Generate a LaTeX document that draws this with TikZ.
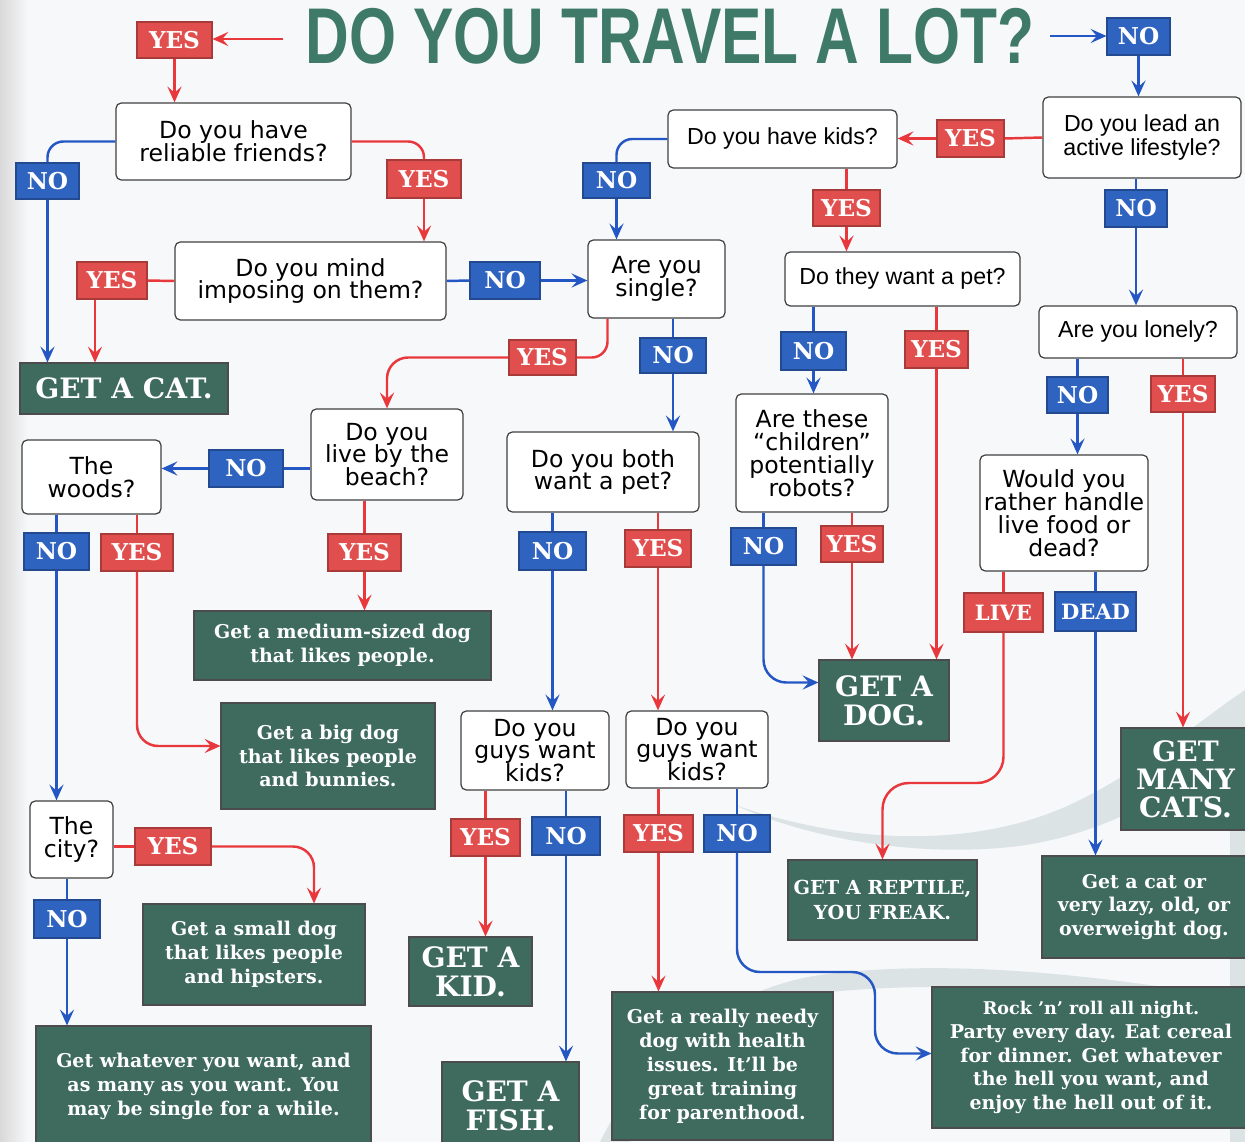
\documentclass[tikz,border=0pt]{standalone}
\usepackage{fontspec}
\setmainfont{DejaVu Sans}
\newfontfamily\qsans{DejaVu Sans}
\newfontfamily\qnarrow{Liberation Sans}
\newfontfamily\clar{DejaVu Serif}
\newfontfamily\titlefont{Liberation Sans}
\usetikzlibrary{arrows.meta,calc}
\definecolor{redl}{HTML}{E04E4E}
\definecolor{redline}{HTML}{E8383C}
\definecolor{bluel}{HTML}{2F63C0}
\definecolor{blueline}{HTML}{2457C4}
\definecolor{outg}{HTML}{3F6B5E}
\definecolor{titleg}{HTML}{3F7A69}
\definecolor{bg}{HTML}{F7F8FA}
\definecolor{swoosh}{HTML}{DCE3E5}
\begin{document}
\begin{tikzpicture}[x=0.02cm,y=-0.02cm,
  bx/.style n args={4}{at={({(#1+#3)/2},{(#2+#4)/2})}, minimum width={(#3-#1)*0.02cm}, minimum height={(#4-#2)*0.02cm}},
  q/.style={draw=black!75, line width=0.7pt, fill=white, rounded corners=3pt, align=center, inner sep=0pt, font=\qsans\fontsize{13.4}{13}\selectfont},
  qn/.style={q, font=\qnarrow\fontsize{13.2}{14}\selectfont},
  outc/.style={draw=black!70, line width=0.6pt, fill=outg, text=white, align=center, inner sep=0pt, font=\clar\bfseries\fontsize{10.8}{13.6}\selectfont},
  bigo/.style={outc, font=\clar\bfseries\fontsize{16}{16.5}\selectfont},
  lab/.style={inner sep=0pt, align=center, text=white, line width=0.6pt, font=\clar\bfseries\fontsize{13.2}{13}\selectfont},
  yes/.style={lab, fill=redl, draw=redl!75!black},
  no/.style={lab, fill=bluel, draw=bluel!75!black},
  rl/.style={draw=redline, line width=1.4pt},
  bl/.style={draw=blueline, line width=1.4pt},
  ra/.style={rl, -{Stealth[length=9pt,width=8pt,inset=3.5pt]}},
  ba/.style={bl, -{Stealth[length=9pt,width=8pt,inset=3.5pt]}},
  rc/.style={rounded corners=9pt}]
\useasboundingbox (0,0) rectangle (1245,1142);
\fill[bg] (0,0) rectangle (1245,1142);
\clip (0,0) rectangle (1245,1142);
\shade[left color=gray!30, right color=bg] (0,0) rectangle (28,1142);
% background swooshes
\fill[swoosh] (735,805) .. controls (850,845) and (980,850) .. (1080,800)
  .. controls (1150,765) and (1200,720) .. (1245,690) -- (1245,740)
  .. controls (1180,790) and (1100,840) .. (1000,848)
  .. controls (900,856) and (800,835) .. (735,805) -- cycle;
\fill[swoosh] (600,1142) .. controls (640,1060) and (720,990) .. (820,975)
  .. controls (950,958) and (1100,975) .. (1245,1000) -- (1245,1015)
  .. controls (1100,990) and (950,980) .. (830,992)
  .. controls (730,1005) and (660,1070) .. (630,1142) -- cycle;
\fill[swoosh] (1245,700) -- (1245,1142) -- (1230,1142) -- (1230,740) -- cycle;

% title
\node[text=titleg, inner sep=0pt, font=\titlefont\bfseries\fontsize{45}{45}\selectfont, xscale=0.765] (title) at (670,36) {DO YOU TRAVEL A LOT?};
\coordinate (tl) at (283,39);
\coordinate (tr) at (1050,36);

% question boxes
\node[q, bx={116}{103}{351}{180}] (q1) {Do you have\\reliable friends?};
\node[q, bx={175}{242}{446}{320}] (q2) {Do you mind\\imposing on them?};
\node[q, bx={588}{240}{725}{318}] (q3) {Are you\\single?};
\node[qn, bx={668}{110}{897}{168}] (q4) {Do you have kids?};
\node[qn, bx={1043}{97}{1241}{178}] (q5) {Do you lead an\\active lifestyle?};
\node[qn, bx={785}{252}{1020}{306}] (q6) {Do they want a pet?};
\node[qn, bx={1039}{306}{1237}{358}] (q7) {Are you lonely?};
\node[q, bx={311}{409}{463}{500}] (q8) {Do you\\live by the\\beach?};
\node[q, bx={22}{440}{161}{514}] (woods) {The\\woods?};
\node[q, bx={30}{801}{113}{878}] (city) {The\\city?};
\node[q, bx={507}{432}{699}{512}] (q11) {Do you both\\want a pet?};
\node[q, bx={461}{711}{609}{790}] (q12) {Do you\\guys want\\kids?};
\node[q, bx={626}{711}{768}{788}] (q13) {Do you\\guys want\\kids?};
\node[q, bx={736}{394}{888}{512}] (q14) {Are these\\“children”\\potentially\\robots?};
\node[q, bx={980}{455}{1148}{571}] (q15) {Would you\\rather handle\\live food or\\dead?};

% outcomes
\node[bigo, bx={20}{363}{228}{414}] (cat) {GET A CAT.};
\node[outc, bx={194}{611}{491}{680}] (meddog) {Get a medium-sized dog\\that likes people.};
\node[outc, bx={221}{703}{435}{809}] (bigdog) {Get a big dog\\that likes people\\and bunnies.};
\node[outc, bx={143}{904}{365}{1005}] (smalldog) {Get a small dog\\that likes people\\and hipsters.};
\node[outc, bx={36}{1026}{371}{1146}] (whatever) {Get whatever you want, and\\as many as you want. You\\may be single for a while.};
\node[bigo, bx={409}{937}{532}{1006}] (kid) {GET A\\KID.};
\node[bigo, bx={442}{1062}{579}{1150}] (fish) {GET A\\FISH.};
\node[outc, bx={612}{992}{833}{1140}] (needy) {Get a really needy\\dog with health\\issues. It’ll be\\great training\\for parenthood.};
\node[outc, bx={932}{987}{1250}{1128}] (rock) {{\fontsize{10}{13.6}\selectfont Rock ’n’ roll all night.}\\Party every day. Eat cereal\\for dinner. Get whatever\\the hell you want, and\\enjoy the hell out of it.};
\node[bigo, bx={819}{660}{949}{741}] (dog) {GET A\\DOG.};
\node[bigo, bx={1121}{728}{1250}{830}, font=\clar\bfseries\fontsize{16}{16}\selectfont] (cats) {GET\\MANY\\CATS.};
\node[outc, bx={788}{860}{977}{940}, font=\clar\bfseries\fontsize{11}{14}\selectfont] (reptile) {GET A REPTILE,\\YOU FREAK.};
\node[outc, bx={1042}{856}{1246}{958}] (catdog) {Get a cat or\\very lazy, old, or\\overweight dog.};

% answer labels
\node[yes, bx={137}{22}{212}{58}] (tyes) {YES};
\node[no, bx={1107}{18}{1170}{55}] (tno) {NO};
\node[no, bx={16}{163}{79}{199}] (q1no) {NO};
\node[yes, bx={387}{160}{461}{198}] (q1yes) {YES};
\node[yes, bx={77}{262}{147}{299}] (q2yes) {YES};
\node[no, bx={470}{262}{540}{299}] (q2no) {NO};
\node[yes, bx={509}{340}{576}{375}] (q3yes) {YES};
\node[no, bx={640}{338}{706}{373}] (q3no) {NO};
\node[no, bx={583}{163}{650}{198}] (q4no) {NO};
\node[yes, bx={813}{190}{880}{226}] (q4yes) {YES};
\node[yes, bx={937}{120}{1004}{157}] (q5yes) {YES};
\node[no, bx={1105}{190}{1167}{227}] (q5no) {NO};
\node[no, bx={781}{332}{846}{370}] (q6no) {NO};
\node[yes, bx={905}{331}{968}{368}] (q6yes) {YES};
\node[no, bx={1047}{377}{1108}{413}] (q7no) {NO};
\node[yes, bx={1151}{376}{1215}{412}] (q7yes) {YES};
\node[no, bx={209}{450}{283}{487}] (q8no) {NO};
\node[yes, bx={328}{534}{401}{571}] (q8yes) {YES};
\node[no, bx={24}{533}{89}{570}] (wno) {NO};
\node[yes, bx={101}{534}{173}{571}] (wyes) {YES};
\node[yes, bx={135}{828}{211}{865}] (cyes) {YES};
\node[no, bx={34}{900}{100}{938}] (cno) {NO};
\node[no, bx={519}{532}{586}{570}] (q11no) {NO};
\node[yes, bx={625}{530}{691}{567}] (q11yes) {YES};
\node[yes, bx={451}{819}{520}{856}] (q12yes) {YES};
\node[no, bx={532}{817}{600}{855}] (q12no) {NO};
\node[yes, bx={624}{815}{693}{852}] (q13yes) {YES};
\node[no, bx={704}{815}{770}{852}] (q13no) {NO};
\node[no, bx={731}{528}{796}{565}] (q14no) {NO};
\node[yes, bx={821}{526}{883}{562}] (q14yes) {YES};
\node[yes, bx={964}{593}{1043}{632}, font=\clar\bfseries\fontsize{12}{12}\selectfont] (live) {LIVE};
\node[no, bx={1055}{592}{1136}{631}, font=\clar\bfseries\fontsize{12}{12}\selectfont] (dead) {DEAD};

% connectors
\draw[ra] (tl) -- (tyes.east |- tl);
\draw[ba] (tr) -- (tno.west |- tr);
\draw[ra] (tyes) -- (tyes |- q1.north);
\draw[ba] (tno) -- (tno |- q5.north);

\draw[bl, rc] (q1.west) -| (q1no.north);
\draw[ba] (q1no) -- (q1no |- cat.north);
\draw[rl, rc] (q1.east) -| (q1yes.north);
\draw[ra] (q1yes) -- (q1yes |- q2.north);

\draw[rl] (q2.west) -- (q2yes.east);
\coordinate (c2y) at ($(q2yes.south)+(-17,0)$);
\draw[ra] (c2y) -- (c2y |- cat.north);
\draw[bl] (q2.east) -- (q2no.west);
\draw[ba] (q2no) -- (q2no -| q3.west);

\coordinate (c3y) at ($(q3.south)+(-49,0)$);
\draw[rl, rc] (c3y) |- (q3yes.east);
\draw[ra, rounded corners=12pt] (q3yes.west) -| (q8.north);
\draw[bl] (q3no |- q3.south) -- (q3no.north);
\draw[ba] (q3no) -- (q3no |- q11.north);

\draw[bl, rc] (q4.west) -| (q4no.north);
\draw[ba] (q4no) -- (q4no |- q3.north);
\draw[rl] (q4yes |- q4.south) -- (q4yes.north);
\draw[ra] (q4yes) -- (q4yes |- q6.north);

\draw[rl] (q5.west) -- (q5yes.east);
\draw[ra] (q5yes) -- (q5yes -| q4.east);
\draw[bl] (q5no |- q5.south) -- (q5no.north);
\draw[ba] (q5no) -- (q5no |- q7.north);

\draw[bl] (q6no |- q6.south) -- (q6no.north);
\draw[ba] (q6no) -- (q6no |- q14.north);
\draw[rl] (q6yes |- q6.south) -- (q6yes.north);
\draw[ra] (q6yes) -- (q6yes |- dog.north);

\draw[bl] (q7no |- q7.south) -- (q7no.north);
\draw[ba] (q7no) -- (q7no |- q15.north);
\draw[rl] (q7yes |- q7.south) -- (q7yes.north);
\draw[ra] (q7yes) -- (q7yes |- cats.north);

\draw[bl] (q8.west |- q8no) -- (q8no.east);
\draw[ba] (q8no) -- (q8no -| woods.east);
\draw[rl] (q8yes |- q8.south) -- (q8yes.north);
\draw[ra] (q8yes) -- (q8yes |- meddog.north);

\draw[bl] (wno |- woods.south) -- (wno.north);
\draw[ba] (wno) -- (wno |- city.north);
\draw[rl] (wyes |- woods.south) -- (wyes.north);
\draw[ra, rounded corners=12pt] (wyes.south) |- ($(bigdog.west)+(0,-10)$);

\draw[rl] (city.east |- cyes) -- (cyes.west);
\draw[ra, rounded corners=12pt] (cyes.east) -| ($(smalldog.north)+(60,0)$);
\draw[bl] (cno |- city.south) -- (cno.north);
\draw[ba] (cno) -- (cno |- whatever.north);

\draw[bl] (q11no |- q11.south) -- (q11no.north);
\draw[ba] (q11no) -- (q11no |- q12.north);
\draw[rl] (q11yes |- q11.south) -- (q11yes.north);
\draw[ra] (q11yes) -- (q11yes |- q13.north);

\draw[rl] (q12yes |- q12.south) -- (q12yes.north);
\draw[ra] (q12yes) -- (q12yes |- kid.north);
\draw[bl] (q12no |- q12.south) -- (q12no.north);
\draw[ba] (q12no) -- (q12no |- fish.north);

\draw[rl] (q13yes |- q13.south) -- (q13yes.north);
\draw[ra] (q13yes) -- (q13yes |- needy.north);
\draw[bl] (q13no |- q13.south) -- (q13no.north);
\coordinate (c13) at (875,972);
\draw[ba, rounded corners=13pt] (q13no.south) |- (c13) |- ($(rock.west)+(0,-4)$);

\draw[bl] (q14no |- q14.south) -- (q14no.north);
\draw[ba, rounded corners=13pt] (q14no.south) |- ($(dog.west)+(0,-18)$);
\draw[rl] (q14yes |- q14.south) -- (q14yes.north);
\draw[ra] (q14yes) -- (q14yes |- dog.north);

\draw[rl] (live |- q15.south) -- (live.north);
\coordinate (crv) at (882.5,783);
\draw[ra, rounded corners=15pt] (live.south) |- (crv) -- (reptile.north);
\draw[bl] (dead |- q15.south) -- (dead.north);
\draw[ba] (dead) -- (dead |- catdog.north);
\end{tikzpicture}
\end{document}
